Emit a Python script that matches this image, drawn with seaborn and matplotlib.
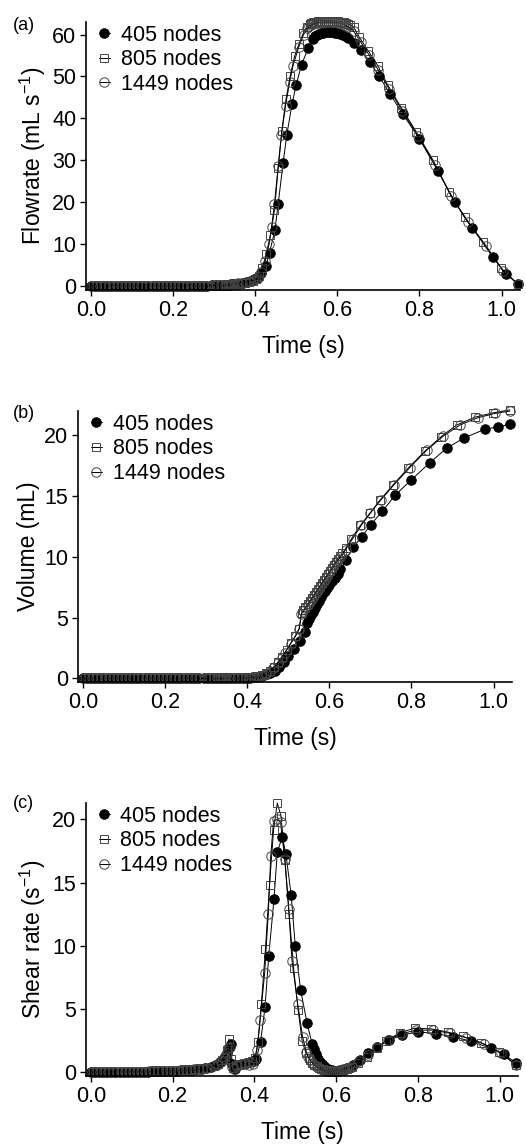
import matplotlib
matplotlib.use("Agg")
import matplotlib.pyplot as plt
import seaborn as sns

# time stamps of each mesh (shared by the three panels)
t_405 = [0.000, 0.010, 0.020, 0.030, 0.040, 0.050, 0.060, 0.070, 0.080, 0.090, 0.100, 0.110, 0.120, 0.130, 0.140,
         0.150, 0.160, 0.170, 0.180, 0.190, 0.200, 0.210, 0.220, 0.230, 0.240, 0.250, 0.260, 0.270, 0.280,
         0.295, 0.305, 0.315, 0.325, 0.333, 0.338, 0.342, 0.346, 0.352, 0.360, 0.370, 0.380, 0.390, 0.398,
         0.405, 0.415, 0.426, 0.435, 0.448, 0.456, 0.468, 0.477, 0.490, 0.500, 0.513, 0.529, 0.541,
         0.545, 0.550, 0.555, 0.560, 0.565, 0.570, 0.575, 0.580, 0.585, 0.590, 0.595, 0.600, 0.606, 0.613, 0.620, 0.627,
         0.641, 0.658, 0.679, 0.701, 0.729, 0.760, 0.800, 0.845, 0.886, 0.929, 0.979, 1.010, 1.040]
t_805 = [0.005, 0.015, 0.025, 0.035, 0.045, 0.055, 0.065, 0.075, 0.085, 0.095, 0.105, 0.115, 0.125, 0.135, 0.145,
         0.155, 0.165, 0.175, 0.185, 0.195, 0.205, 0.215, 0.225, 0.235, 0.245, 0.255, 0.265, 0.275, 0.285,
         0.300, 0.310, 0.320, 0.328, 0.334, 0.338, 0.342, 0.348, 0.356, 0.366, 0.376, 0.386, 0.395, 0.402,
         0.409, 0.417, 0.427, 0.437, 0.447, 0.456, 0.465, 0.475, 0.485, 0.496, 0.507, 0.517, 0.526, 0.533,
         0.537, 0.542, 0.547, 0.552, 0.557, 0.562, 0.567, 0.572, 0.577, 0.582, 0.587, 0.592, 0.597, 0.602, 0.607,
         0.612, 0.617, 0.622, 0.627, 0.632,
         0.640, 0.654, 0.676, 0.699, 0.723, 0.756, 0.792, 0.833, 0.873, 0.910, 0.955, 0.999, 1.040]
t_1449 = [0.003, 0.013, 0.023, 0.033, 0.043, 0.053, 0.063, 0.073, 0.083, 0.093, 0.103, 0.113, 0.123, 0.133, 0.143,
          0.153, 0.163, 0.173, 0.183, 0.193, 0.203, 0.213, 0.223, 0.233, 0.243, 0.253, 0.263, 0.273, 0.283,
          0.298, 0.308, 0.318, 0.326, 0.332, 0.336, 0.340, 0.344, 0.350, 0.358, 0.368, 0.378, 0.388, 0.396,
          0.406, 0.414, 0.425, 0.434, 0.440, 0.447, 0.456, 0.464, 0.474, 0.484, 0.492, 0.506, 0.518, 0.527,
          0.532, 0.537, 0.542, 0.547, 0.552, 0.557, 0.562, 0.567, 0.572, 0.577, 0.582, 0.587, 0.592, 0.597, 0.602,
          0.607, 0.612, 0.617, 0.622, 0.627,
          0.640, 0.657, 0.678, 0.700, 0.726, 0.758, 0.796, 0.838, 0.878, 0.918, 0.962, 1.003, 1.040]

# (a) flowrate, mL/s
flow_405 = [0, 0, 0, 0, 0, 0, 0, 0, 0, 0, 0, 0, 0, 0, 0,
            0, 0, 0, 0, 0, 0, 0, 0, 0, 0, 0, 0, 0, 0.02,
            0.05, 0.08, 0.10, 0.15, 0.20, 0.25, 0.30, 0.35, 0.40, 0.50, 0.60, 0.80, 1.10, 1.50,
            1.80, 3.00, 4.60, 7.90, 13.2, 19.5, 29.3, 36.0, 43.5, 48.0, 52.8, 56.7, 59.0,
            59.6, 59.9, 60.1, 60.3, 60.4, 60.5, 60.5, 60.5, 60.5, 60.5, 60.4, 60.3, 60.1, 59.9, 59.6, 59.2,
            58.0, 56.3, 53.5, 50.2, 45.7, 40.9, 35.1, 27.4, 20.0, 13.8, 6.8, 2.8, 0.5]
flow_805 = [0, 0, 0, 0, 0, 0, 0, 0, 0, 0, 0, 0, 0, 0, 0,
            0, 0, 0, 0, 0, 0, 0, 0, 0, 0, 0, 0, 0, 0.02,
            0.05, 0.08, 0.12, 0.16, 0.20, 0.25, 0.30, 0.35, 0.42, 0.55, 0.70, 0.85, 1.10, 1.50,
            2.40, 4.20, 7.50, 12.0, 18.0, 28.0, 37.0, 44.5, 50.0, 54.8, 57.8, 60.3, 61.8, 62.5,
            62.8, 63.0, 63.1, 63.2, 63.3, 63.3, 63.3, 63.3, 63.3, 63.3, 63.3, 63.3, 63.2, 63.2, 63.1,
            63.0, 62.9, 62.7, 62.5, 62.3,
            61.8, 59.3, 56.0, 52.5, 47.9, 42.5, 36.8, 30.0, 22.3, 16.3, 10.5, 4.2, 0.3]
flow_1449 = [0, 0, 0, 0, 0, 0, 0, 0, 0, 0, 0, 0, 0, 0, 0,
             0, 0, 0, 0, 0, 0, 0, 0, 0, 0, 0, 0, 0, 0.02,
             0.05, 0.08, 0.12, 0.16, 0.20, 0.25, 0.30, 0.35, 0.42, 0.55, 0.70, 0.85, 1.00, 1.30,
             1.80, 3.20, 6.00, 10.0, 14.0, 19.5, 28.5, 36.0, 43.0, 48.7, 52.5, 57.0, 60.0, 61.5,
             62.0, 62.3, 62.5, 62.7, 62.8, 62.9, 63.0, 63.0, 63.0, 63.0, 63.0, 63.0, 62.9, 62.9, 62.8,
             62.7, 62.5, 62.3, 62.1, 61.8,
             60.8, 58.2, 55.0, 51.5, 47.0, 41.8, 35.8, 28.8, 21.3, 15.2, 9.4, 3.6, 0.3]

# (b) volume, mL
vol_405 = [0, 0, 0, 0, 0, 0, 0, 0, 0, 0, 0, 0, 0, 0, 0,
           0, 0, 0, 0, 0, 0, 0, 0, 0, 0, 0, 0, 0, 0,
           0, 0, 0, 0, 0, 0, 0, 0, 0.01, 0.015, 0.02, 0.03, 0.04, 0.05,
           0.07, 0.10, 0.15, 0.22, 0.33, 0.45, 0.65, 0.95, 1.35, 1.85, 2.40, 3.10, 3.80,
           4.60, 4.90, 5.20, 5.50, 5.80, 6.10, 6.40, 6.70, 7.00, 7.20, 7.45, 7.70, 8.00, 8.30, 8.60, 8.97,
           9.75, 10.8, 11.65, 12.65, 13.74, 15.06, 16.35, 17.75, 18.95, 19.8, 20.5, 20.7, 20.9]
vol_805 = [0, 0, 0, 0, 0, 0, 0, 0, 0, 0, 0, 0, 0, 0, 0,
           0, 0, 0, 0, 0, 0, 0, 0, 0, 0, 0, 0, 0, 0,
           0, 0, 0, 0, 0, 0, 0, 0.01, 0.01, 0.015, 0.02, 0.03, 0.04, 0.05,
           0.07, 0.10, 0.17, 0.27, 0.42, 0.63, 0.95, 1.35, 1.80, 2.35, 2.95, 3.45, 4.05, 5.40,
           5.60, 5.85, 6.10, 6.35, 6.60, 6.85, 7.10, 7.35, 7.60, 7.85, 8.10, 8.35, 8.60, 8.85, 9.10,
           9.35, 9.60, 9.85, 10.1, 10.3,
           10.7, 11.5, 12.6, 13.6, 14.65, 15.95, 17.3, 18.7, 19.9, 20.85, 21.5, 21.85, 22.1]
vol_1449 = [0, 0, 0, 0, 0, 0, 0, 0, 0, 0, 0, 0, 0, 0, 0,
            0, 0, 0, 0, 0, 0, 0, 0, 0, 0, 0, 0, 0, 0,
            0, 0, 0, 0, 0, 0, 0, 0.01, 0.01, 0.015, 0.02, 0.025, 0.03, 0.03,
            0.05, 0.08, 0.13, 0.20, 0.27, 0.38, 0.58, 0.85, 1.25, 1.70, 2.10, 2.85, 3.50, 4.10,
            5.30, 5.55, 5.80, 6.05, 6.30, 6.55, 6.80, 7.05, 7.30, 7.55, 7.80, 8.05, 8.30, 8.55, 8.80,
            9.05, 9.30, 9.55, 9.80, 10.0,
            10.6, 11.5, 12.6, 13.6, 14.7, 15.95, 17.35, 18.8, 19.95, 20.85, 21.45, 21.8, 22.0]

# (c) shear rate, 1/s
shear_405 = [0, 0, 0, 0, 0, 0, 0, 0, 0, 0.01, 0.01, 0.01, 0.01, 0.015, 0.02,
             0.025, 0.03, 0.04, 0.05, 0.06, 0.07, 0.085, 0.10, 0.12, 0.14, 0.17, 0.20, 0.23, 0.27,
             0.38, 0.50, 0.75, 1.10, 1.50, 1.90, 2.20, 0.60, 0.25, 0.55, 0.65, 0.70, 0.75, 0.85,
             1.05, 2.37, 5.10, 9.15, 13.7, 17.4, 18.6, 17.3, 14.0, 10.0, 6.5, 3.83, 2.24,
             1.80, 1.40, 1.05, 0.80, 0.60, 0.45, 0.33, 0.24, 0.17, 0.12, 0.08, 0.06, 0.07, 0.10, 0.16, 0.27,
             0.53, 0.92, 1.45, 1.98, 2.50, 2.90, 3.16, 3.03, 2.77, 2.43, 1.85, 1.40, 0.71]
shear_805 = [0, 0, 0, 0, 0, 0, 0, 0, 0.01, 0.01, 0.01, 0.01, 0.015, 0.02, 0.025,
             0.03, 0.035, 0.045, 0.055, 0.065, 0.08, 0.09, 0.11, 0.13, 0.15, 0.18, 0.21, 0.25, 0.29,
             0.45, 0.60, 0.90, 1.20, 1.70, 2.60, 1.00, 0.30, 0.50, 0.65, 0.70, 0.75, 0.85, 1.10,
             2.37, 5.35, 9.70, 14.8, 19.2, 21.3, 20.3, 16.8, 12.5, 8.20, 4.90, 2.40, 1.50, 1.10,
             0.90, 0.72, 0.56, 0.43, 0.33, 0.25, 0.19, 0.14, 0.10, 0.08, 0.06, 0.05, 0.05, 0.06, 0.08,
             0.11, 0.15, 0.19, 0.24, 0.29,
             0.40, 0.70, 1.20, 1.85, 2.45, 3.10, 3.45, 3.40, 3.15, 2.80, 2.30, 1.55, 0.55]
shear_1449 = [0, 0, 0, 0, 0, 0, 0, 0, 0.01, 0.01, 0.01, 0.01, 0.015, 0.02, 0.025,
              0.03, 0.035, 0.045, 0.055, 0.065, 0.08, 0.09, 0.11, 0.13, 0.15, 0.18, 0.21, 0.25, 0.28,
              0.42, 0.55, 0.80, 1.10, 1.50, 1.90, 2.00, 0.40, 0.20, 0.45, 0.60, 0.65, 0.55, 0.60,
              1.70, 4.10, 7.80, 12.5, 17.1, 19.9, 20.0, 19.8, 16.9, 12.9, 8.80, 5.35, 2.77, 1.60,
              1.20, 0.90, 0.68, 0.50, 0.38, 0.28, 0.20, 0.15, 0.11, 0.08, 0.06, 0.05, 0.05, 0.06, 0.08,
              0.11, 0.15, 0.19, 0.24, 0.30,
              0.45, 0.85, 1.35, 1.95, 2.50, 3.00, 3.30, 3.30, 3.05, 2.70, 2.20, 1.50, 0.55]

mesh_labels = ["405 nodes", "805 nodes", "1449 nodes"]

sns.set_style("ticks")
plt.rcParams["font.family"] = ["Liberation Sans", "DejaVu Sans"]
plt.rcParams["mathtext.default"] = "regular"
plt.rcParams["text.color"] = "black"
plt.rcParams["axes.labelcolor"] = "black"
plt.rcParams["axes.edgecolor"] = "black"
plt.rcParams["xtick.color"] = "black"
plt.rcParams["ytick.color"] = "black"
plt.rcParams["axes.linewidth"] = 1.2
plt.rcParams["xtick.major.width"] = 1.0
plt.rcParams["ytick.major.width"] = 1.0
plt.rcParams["xtick.major.size"] = 4
plt.rcParams["ytick.major.size"] = 4

FS_TICK = 15.5
FS_LAB = 16.5

styles = [
    dict(marker="o", markersize=6.8, markerfacecolor="black", markeredgecolor="black"),
    dict(marker="s", markersize=6.3, markerfacecolor="none", markeredgecolor="#444444", markeredgewidth=0.7),
    dict(marker="o", markersize=6.8, markerfacecolor="none", markeredgecolor="#444444", markeredgewidth=0.7),
]


def panel(fig, rect, series, ylim, yticks, ylabel, letter, letter_y):
    ax = fig.add_axes(rect)
    times = [t_405, t_805, t_1449]
    for t, y, lab, st in zip(times, series, mesh_labels, styles):
        sns.lineplot(x=t, y=y, ax=ax, estimator=None, sort=False, color="black",
                     linewidth=0.7, label=lab, clip_on=False, **st)
    ax.set_xlim(-0.012, 1.045)
    ax.set_ylim(*ylim)
    ax.set_xticks([0.0, 0.2, 0.4, 0.6, 0.8, 1.0])
    ax.set_xticklabels(["0.0", "0.2", "0.4", "0.6", "0.8", "1.0"])
    ax.set_yticks(yticks)
    ax.tick_params(labelsize=FS_TICK, pad=3)
    ax.set_xlabel("Time (s)", fontsize=FS_LAB, labelpad=10)
    ax.set_ylabel(ylabel, fontsize=FS_LAB, labelpad=3)
    for s in ["top", "right"]:
        ax.spines[s].set_visible(False)
    ax.legend(loc="upper left", bbox_to_anchor=(0.03, 0.99), frameon=False, fontsize=FS_TICK,
              handlelength=0.5, handletextpad=0.5, labelspacing=0.17, borderpad=0, borderaxespad=0)
    fig.text(0.025, letter_y, letter, fontsize=13, va="center", ha="left")
    return ax


fig = plt.figure(figsize=(5.26, 11.44), dpi=100)

panel(fig, [0.1635, 0.7465, 0.8251, 0.2343], [flow_405, flow_805, flow_1449], (-1.05, 63.0),
      [0, 10, 20, 30, 40, 50, 60], r"Flowrate (mL s$^{-1}$)", "(a)", 1 - 25 / 1144)
panel(fig, [0.1483, 0.4038, 0.8251, 0.2369], [vol_405, vol_805, vol_1449], (-0.3, 22.0),
      [0, 5, 10, 15, 20], "Volume (mL)", "(b)", 1 - 414 / 1144)
panel(fig, [0.1635, 0.0594, 0.8213, 0.2386], [shear_405, shear_805, shear_1449], (-0.34, 21.3),
      [0, 5, 10, 15, 20], r"Shear rate (s$^{-1}$)", "(c)", 1 - 803 / 1144)

fig.savefig("out.png", dpi=100)
